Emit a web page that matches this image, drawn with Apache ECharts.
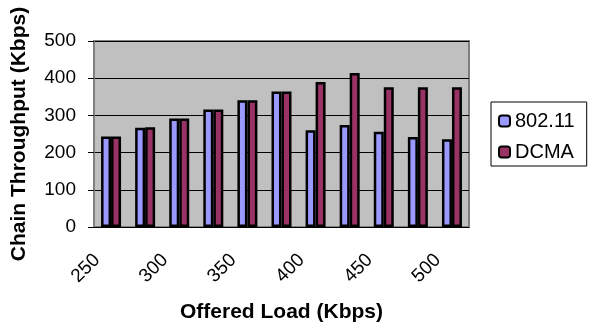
<!DOCTYPE html>
<html>
<head>
<meta charset="utf-8">
<script src="https://cdn.jsdelivr.net/npm/echarts@6/dist/echarts.min.js"></script>
<style>
  html, body { margin: 0; padding: 0; background: #fff; }
  #chart { width: 592px; height: 328px; }
</style>
</head>
<body>
<div id="chart"></div>
<script>
// offered load (Kbps), one bar pair each
const loads = ['250', '275', '300', '325', '350', '375', '400', '425', '450', '475', '500']
const ieee80211 = [243, 267, 292, 316, 341, 364, 260, 274, 256, 242, 236]
const dcma = [243, 268, 292, 316, 341, 364, 390, 414, 376, 376, 376]
const yTicks = [0, 100, 200, 300, 400, 500]

const font = 'Arial, "Liberation Sans", sans-serif'

const chart = echarts.init(document.getElementById('chart'))

const option = {
  animation: false,
  textStyle: { fontFamily: font },
  grid: {
    left: 94,
    right: 123,
    top: 41,
    bottom: 99,
    show: true,
    backgroundColor: '#c0c0c0',
    borderColor: '#808080',
    borderWidth: 2
  },
  legend: {
    orient: 'vertical',
    left: 491,
    top: 102,
    padding: [9, 12, 4, 7],
    itemGap: 11,
    itemWidth: 11,
    itemHeight: 11,
    backgroundColor: '#fff',
    borderColor: '#000',
    borderWidth: 1,
    textStyle: { fontSize: 20, color: '#000', fontFamily: font },
    data: ['802.11', 'DCMA']
  },
  xAxis: {
    type: 'category',
    data: loads,
    name: 'Offered Load (Kbps)',
    nameLocation: 'middle',
    nameGap: 75,
    nameTextStyle: { fontSize: 21, fontWeight: 'bold', color: '#000' },
    axisLine: { lineStyle: { color: '#000', width: 1 } },
    axisTick: { interval: 0, length: 5, lineStyle: { color: '#000' } },
    axisLabel: {
      interval: 1,
      rotate: 45,
      margin: 16,
      padding: [0, 20, 0, 0],
      fontSize: 19,
      color: '#000'
    }
  },
  yAxis: {
    type: 'value',
    min: yTicks[0],
    max: yTicks[yTicks.length - 1],
    interval: 100,
    name: 'Chain Throughput (Kbps)',
    nameLocation: 'middle',
    nameGap: 64,
    nameTextStyle: { fontSize: 21, fontWeight: 'bold', color: '#000' },
    axisLine: { show: true, lineStyle: { color: '#808080', width: 2 } },
    axisTick: { show: true, length: 6, lineStyle: { color: '#000' } },
    axisLabel: { fontSize: 19, color: '#000', margin: 18 },
    splitLine: { lineStyle: { color: '#000', width: 1 } }
  },
  series: [
    {
      name: '802.11',
      type: 'bar',
      data: ieee80211,
      barWidth: 10,
      barGap: '0%',
      itemStyle: { color: '#9999ff', borderColor: '#000', borderWidth: 2.5 }
    },
    {
      name: 'DCMA',
      type: 'bar',
      data: dcma,
      barWidth: 10,
      itemStyle: { color: '#993366', borderColor: '#000', borderWidth: 2.5 }
    }
  ]
}

chart.setOption(option)
</script>
</body>
</html>
